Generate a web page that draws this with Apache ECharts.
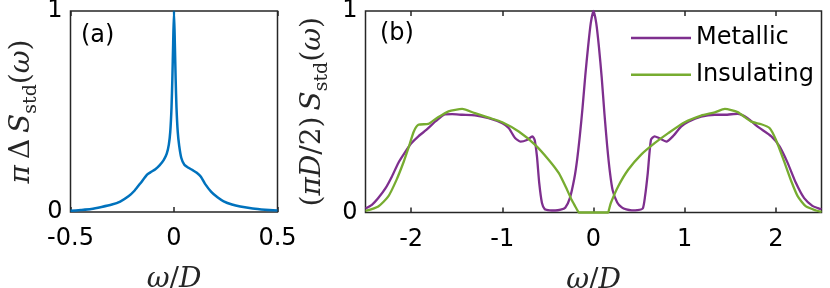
<!DOCTYPE html>
<html>
<head>
<meta charset="utf-8">
<script src="https://cdn.jsdelivr.net/npm/echarts@6/dist/echarts.min.js"></script>
<style>
html,body{margin:0;padding:0;background:#fff;}
#c{width:830px;height:288px;}
</style>
</head>
<body>
<div id="c"></div>
<script>
// ---- data ----
var aX = [-0.5,-0.45,-0.4,-0.35,-0.3,-0.26,-0.22,-0.19,-0.16,-0.13,-0.11,-0.09,-0.07,-0.05,-0.035,-0.025,-0.018,-0.012,-0.008,-0.004,0,0.004,0.008,0.012,0.018,0.025,0.035,0.05,0.07,0.09,0.11,0.13,0.15,0.18,0.21,0.24,0.28,0.32,0.38,0.44,0.5];
var aY = [0.006,0.01,0.015,0.025,0.037,0.052,0.078,0.107,0.146,0.186,0.2,0.213,0.232,0.258,0.29,0.335,0.4,0.52,0.66,0.84,1.0,0.84,0.66,0.52,0.4,0.33,0.27,0.235,0.22,0.208,0.195,0.175,0.14,0.1,0.073,0.053,0.037,0.027,0.017,0.011,0.007];

var metX = [-2.5,-2.43,-2.36,-2.28,-2.21,-2.14,-2.06,-2.0,-1.92,-1.83,-1.73,-1.63,-1.55,-1.44,-1.3,-1.15,-1.0,-0.93,-0.86,-0.8,-0.73,-0.67,-0.645,-0.62,-0.595,-0.565,-0.535,-0.48,-0.42,-0.36,-0.31,-0.26,-0.21,-0.18,-0.15,-0.12,-0.09,-0.06,-0.03,0,0.03,0.06,0.09,0.12,0.15,0.18,0.21,0.26,0.31,0.36,0.42,0.48,0.54,0.565,0.595,0.63,0.67,0.72,0.8,0.87,0.96,1.04,1.18,1.33,1.44,1.58,1.69,1.8,1.95,2.04,2.13,2.22,2.31,2.4,2.46,2.5];
var metY = [0.02,0.038,0.072,0.121,0.179,0.246,0.303,0.342,0.378,0.411,0.453,0.487,0.488,0.485,0.482,0.468,0.443,0.419,0.37,0.352,0.36,0.378,0.36,0.278,0.146,0.047,0.017,0.011,0.01,0.014,0.024,0.07,0.17,0.26,0.38,0.52,0.68,0.82,0.94,1.0,0.94,0.82,0.67,0.49,0.33,0.2,0.11,0.05,0.025,0.015,0.011,0.012,0.02,0.08,0.196,0.361,0.378,0.369,0.352,0.378,0.426,0.451,0.476,0.485,0.485,0.49,0.468,0.426,0.378,0.328,0.245,0.146,0.071,0.033,0.022,0.016];

var insX = [-2.5,-2.36,-2.25,-2.16,-2.08,-2.03,-1.97,-1.92,-1.81,-1.72,-1.59,-1.44,-1.3,-1.15,-1.0,-0.82,-0.64,-0.49,-0.38,-0.29,-0.24,-0.2,-0.17,-0.16,0.16,0.17,0.19,0.27,0.38,0.52,0.67,0.82,1.0,1.18,1.33,1.44,1.58,1.73,1.84,1.93,2.0,2.09,2.17,2.24,2.33,2.44,2.5];
var insY = [0.008,0.03,0.08,0.162,0.253,0.319,0.402,0.435,0.44,0.468,0.502,0.514,0.493,0.471,0.448,0.402,0.336,0.261,0.195,0.113,0.063,0.03,0.006,0,0,0.015,0.047,0.129,0.212,0.286,0.344,0.394,0.448,0.481,0.497,0.514,0.498,0.451,0.438,0.419,0.361,0.254,0.154,0.08,0.03,0.01,0.003];

var aTicks = [-0.5, 0, 0.5];
var bTicks = [-2, -1, 0, 1, 2];
var seriesNames = ['Metallic', 'Insulating'];

// ---- helpers ----
function pairs(xs, ys) { return xs.map(function (x, i) { return [x, ys[i]]; }); }

var FRAME = '#262626';
var tickFont = 'DejaVu Sans';
var rich = {
  it: { fontFamily: 'DejaVu Serif', fontStyle: 'italic', fontSize: 28, lineHeight: 38, color: '#262626' },
  rm: { fontFamily: 'DejaVu Serif', fontSize: 28, lineHeight: 38, color: '#262626' },
  sp: { fontFamily: 'DejaVu Serif', fontSize: 28, lineHeight: 38, width: 6 },
  sub: { fontFamily: 'DejaVu Serif', fontSize: 19, lineHeight: 19, verticalAlign: 'bottom', color: '#262626' }
};

function xAxisBottom(g, min, max, ticks, name) {
  return {
    type: 'value', gridIndex: g, min: min, max: max, position: 'bottom',
    axisLine: { show: false },
    axisTick: { show: true, inside: true, length: 5, customValues: ticks, lineStyle: { color: FRAME, width: 1.5 } },
    axisLabel: { customValues: ticks, fontFamily: tickFont, fontSize: 24, color: '#000', margin: 15 },
    splitLine: { show: false },
    name: name, nameLocation: 'middle', nameGap: 49,
    nameTextStyle: { rich: rich }
  };
}
function xAxisTop(g, min, max, ticks) {
  return {
    type: 'value', gridIndex: g, min: min, max: max, position: 'top',
    axisLine: { show: false },
    axisTick: { show: true, inside: true, length: 5, customValues: ticks, lineStyle: { color: FRAME, width: 1.5 } },
    axisLabel: { show: false, customValues: ticks },
    splitLine: { show: false }
  };
}
function yAxisLeft(g, name, gap) {
  return {
    type: 'value', gridIndex: g, min: 0, max: 1, interval: 1,
    axisLine: { show: false },
    axisTick: { show: false },
    axisLabel: { fontFamily: tickFont, fontSize: 24, color: '#000', margin: 8 },
    splitLine: { show: false },
    name: name, nameLocation: 'middle', nameRotate: 90, nameGap: gap,
    nameTextStyle: { rich: rich }
  };
}

var xName = '{it|ω}{rm|/}{it|D}';
var yNameA = '{it|π}{sp|}{rm|Δ}{sp|}{it|S}{sub|std}{rm|(}{it|ω}{rm|)}';
var yNameB = '{rm|(}{it|πD}{rm|/2)}{sp|}{it|S}{sub|std}{rm|(}{it|ω}{rm|)}';

var lineCommon = { type: 'line', symbol: 'none', showSymbol: false, smooth: 0.2, clip: false, z: 5 };

var chart = echarts.init(document.getElementById('c'), null, { renderer: 'canvas' });
chart.setOption({
  backgroundColor: '#fff',
  animation: false,
  grid: [
    { left: 70.5, top: 11, width: 207, height: 201, show: true, borderColor: FRAME, borderWidth: 1.5, backgroundColor: 'transparent',
      containLabel: false, outerBoundsMode: 'none' },
    { left: 365.5, top: 11, width: 456, height: 201.5, show: true, borderColor: FRAME, borderWidth: 1.5, backgroundColor: 'transparent',
      containLabel: false, outerBoundsMode: 'none' }
  ],
  xAxis: [
    xAxisBottom(0, -0.5, 0.5, aTicks, xName),
    xAxisBottom(1, -2.5, 2.5, bTicks, xName),
    xAxisTop(0, -0.5, 0.5, aTicks),
    xAxisTop(1, -2.5, 2.5, bTicks)
  ],
  yAxis: [
    yAxisLeft(0, yNameA, 30),
    yAxisLeft(1, yNameB, 34)
  ],
  legend: {
    orient: 'vertical', left: 626, top: 21,
    icon: 'rect', itemWidth: 60, itemHeight: 2.4, itemGap: 12.7,
    data: seriesNames,
    textStyle: { fontFamily: tickFont, fontSize: 24, lineHeight: 24, color: '#000' }
  },
  graphic: [
    { type: 'text', x: 81, y: 36, style: { text: '(a)', font: '24px "DejaVu Sans"', fill: '#000', verticalAlign: 'middle' } },
    { type: 'text', x: 380, y: 34, style: { text: '(b)', font: '24px "DejaVu Sans"', fill: '#000', verticalAlign: 'middle' } }
  ],
  series: [
    Object.assign({ xAxisIndex: 0, yAxisIndex: 0, data: pairs(aX, aY),
      lineStyle: { color: '#0072BD', width: 2.5, join: 'round' }, itemStyle: { color: '#0072BD' } }, lineCommon),
    Object.assign({ name: seriesNames[0], xAxisIndex: 1, yAxisIndex: 1, data: pairs(metX, metY),
      lineStyle: { color: '#7E2F8E', width: 2.3, join: 'round' }, itemStyle: { color: '#7E2F8E' } }, lineCommon),
    Object.assign({ name: seriesNames[1], xAxisIndex: 1, yAxisIndex: 1, data: pairs(insX, insY),
      lineStyle: { color: '#77AC30', width: 2.3, join: 'round' }, itemStyle: { color: '#77AC30' } }, lineCommon)
  ]
});
</script>
</body>
</html>
